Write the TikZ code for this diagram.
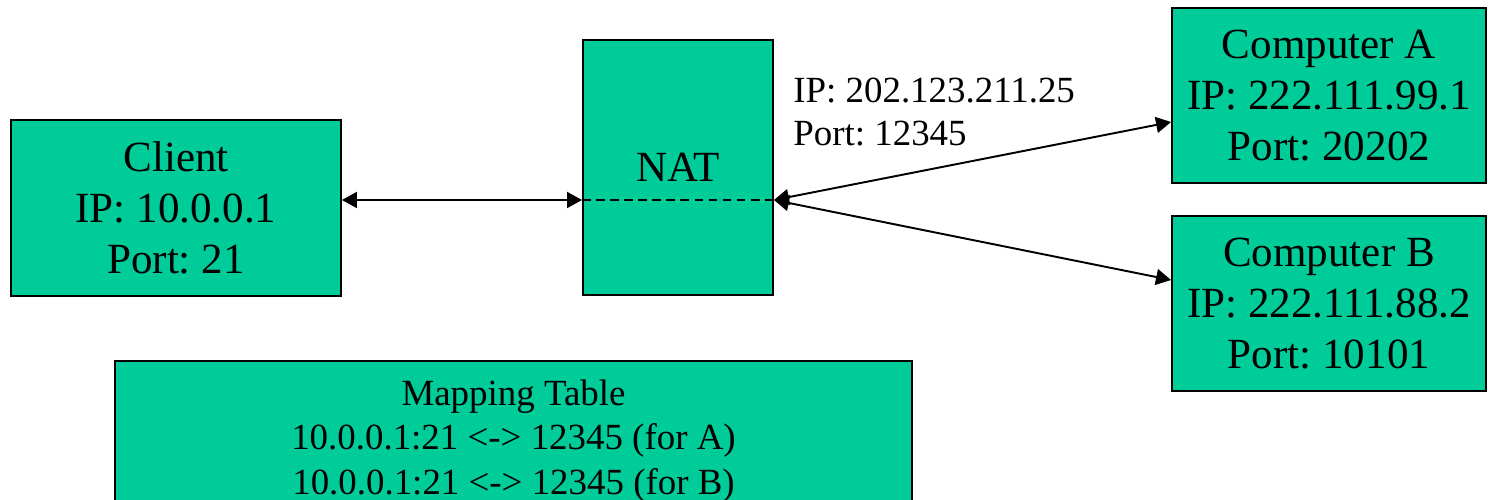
\documentclass[tikz,border=0pt]{standalone}
\usepackage{fontspec}
\setmainfont{Liberation Serif}
\usepackage{tikz}
\usetikzlibrary{arrows.meta,calc}
\definecolor{hostfill}{RGB}{0,204,153}
\definecolor{inkc}{RGB}{0,0,0}
\frenchspacing

\begin{document}
\begin{tikzpicture}[
  host/.style={draw=inkc, line width=1.1pt, fill=hostfill, align=center, text=inkc,
    font=\fontsize{24.5}{29}\selectfont, inner sep=0pt},
  table/.style={host, font=\fontsize{21}{25.5}\selectfont},
  link/.style={line width=1.1pt, inkc, {Triangle[length=0.3cm,width=0.32cm]}-{Triangle[length=0.3cm,width=0.32cm]}},
]
\useasboundingbox (0,0) rectangle (29.76,-10);
\clip (0,0) rectangle (29.76,-10);
\def\cx{3.52}   % client column centre
\def\nx{13.56}  % NAT column centre
\def\hx{26.58}  % remote hosts column centre

% ---- boxes ----
\node[host, minimum width=6.6cm, minimum height=3.52cm, anchor=center] (client) at (\cx,-4.16)
  {Client\\IP: 10.0.0.1\\Port: 21};
\node[host, minimum width=3.8cm, minimum height=5.1cm, anchor=center] (nat) at (\nx,-3.35)
  {NAT};
\node[host, minimum width=6.28cm, minimum height=3.5cm, anchor=center] (compA) at (\hx,-1.91)
  {Computer A\\IP: 222.111.99.1\\Port: 20202};
\node[host, minimum width=6.28cm, minimum height=3.5cm, anchor=center] (compB) at (\hx,-6.07)
  {Computer B\\IP: 222.111.88.2\\Port: 10101};
\node[table, minimum width=15.94cm, minimum height=3.2cm, anchor=north] (map) at (10.27,-7.2)
  {Mapping Table\\10.0.0.1:21 <-> 12345 (for A)\\10.0.0.1:21 <-> 12345 (for B)};

% ---- public address of the NAT ----
\node[align=left, font=\fontsize{21}{24}\selectfont, text=inkc, inner sep=0pt, anchor=north west] (pub) at (15.86,-1.56)
  {IP: 202.123.211.25\\Port: 12345};

% ---- links ----
\coordinate (lan) at (0,-4.0);
\coordinate (inA) at (0,-2.44);
\coordinate (inB) at (0,-5.6);
\draw[inkc, line width=0.6pt, dash pattern=on 5pt off 3pt] (nat.west |- lan) -- (nat.east |- lan);
\draw[link] (client.east |- lan) -- (nat.west |- lan);
\draw[link] (nat.east |- lan) -- (compA.west |- inA);
\draw[link] (nat.east |- lan) -- (compB.west |- inB);

\end{tikzpicture}
\end{document}
